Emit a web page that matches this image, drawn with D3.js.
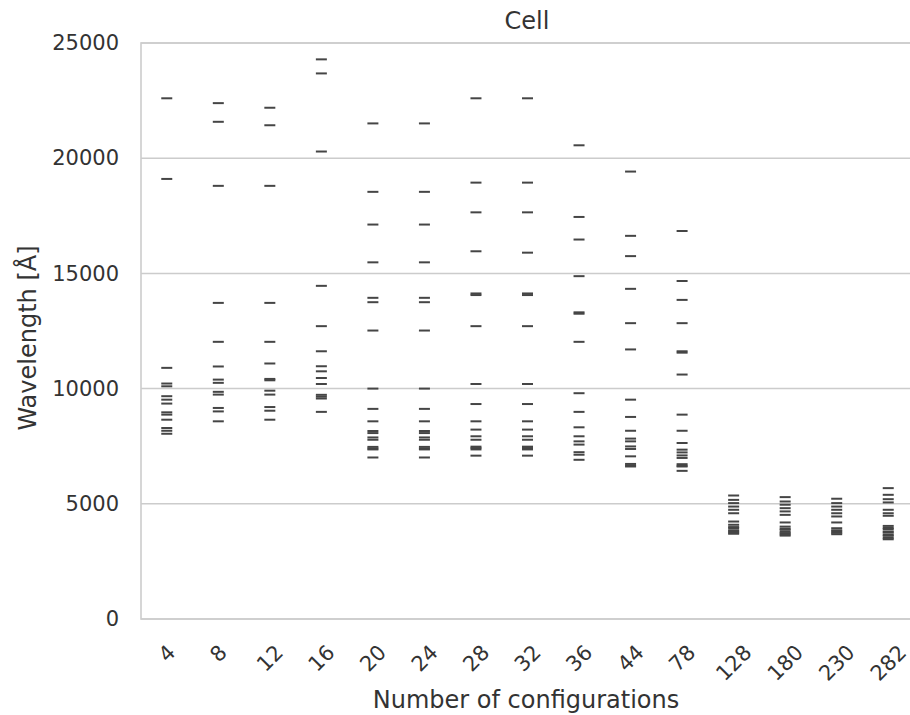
<!DOCTYPE html>
<html>
<head>
<meta charset="utf-8">
<script src="https://cdn.jsdelivr.net/npm/d3@7"></script>
<style>
  html, body { margin: 0; padding: 0; background: #fff; }
  svg { display: block; font-family: "DejaVu Sans", sans-serif; }
</style>
</head>
<body>
<svg id="chart" width="910" height="715"></svg>
<script>
// Number of configurations on the x axis
const configurations = ["4", "8", "12", "16", "20", "24", "28", "32", "36", "44", "78", "128", "180", "230", "282"];

// Wavelengths (Å) for each configuration count
const w4   = [22600, 19100, 10900, 10220, 10100, 9670, 9520, 9350, 8970, 8870, 8650, 8290, 8170, 8040];
const w8   = [22390, 21580, 18800, 13720, 12030, 10960, 10390, 10250, 9860, 9740, 9160, 9010, 8580];
const w12  = [22190, 21430, 18800, 13720, 12030, 11090, 10420, 10360, 9910, 9740, 9200, 9040, 8650];
const w16  = [24290, 23680, 20290, 14460, 12710, 11620, 10970, 10750, 10460, 10200, 9730, 9650, 9570, 8990];
const w20  = [21510, 18540, 17120, 15480, 13940, 13750, 12520, 10000, 9120, 8580, 8160, 8070, 7880, 7780, 7470, 7400, 7360, 7010];
const w24  = [21510, 18540, 17120, 15480, 13940, 13750, 12520, 10000, 9120, 8580, 8160, 8070, 7880, 7780, 7470, 7400, 7360, 7010];
const w28  = [22600, 18940, 17650, 15960, 14130, 14060, 12710, 10200, 9330, 8580, 8220, 7930, 7780, 7480, 7420, 7360, 7090];
const w32  = [22600, 18940, 17650, 15900, 14130, 14060, 12710, 10200, 9330, 8580, 8220, 7930, 7780, 7480, 7420, 7360, 7090];
const w36  = [20560, 17450, 16470, 14880, 13310, 13250, 12030, 9800, 8990, 8320, 7930, 7710, 7570, 7240, 7130, 6910];
const w44  = [19420, 16630, 15750, 14330, 12840, 11700, 9520, 8770, 8170, 7830, 7710, 7490, 7380, 7060, 6730, 6660, 6620];
const w78  = [16840, 14670, 13850, 12840, 11620, 11560, 10610, 8870, 8170, 7640, 7350, 7230, 7100, 6990, 6720, 6650, 6620, 6430];
const w128 = [5360, 5170, 5030, 4880, 4740, 4590, 4230, 4090, 3990, 3940, 3850, 3800, 3750, 3700];
const w180 = [5290, 5100, 4960, 4810, 4670, 4520, 4190, 4010, 3920, 3870, 3780, 3720, 3670, 3620];
const w230 = [5220, 5030, 4880, 4740, 4590, 4450, 4190, 3940, 3850, 3800, 3740, 3680];
const w282 = [5680, 5390, 5200, 5060, 4740, 4590, 4480, 4040, 3950, 3900, 3800, 3750, 3660, 3610, 3520, 3460];

const wavelengths = [w4, w8, w12, w16, w20, w24, w28, w32, w36, w44, w78, w128, w180, w230, w282];

const yTicks = [0, 5000, 10000, 15000, 20000, 25000];

(function draw() {
  // Plot area
  const plotLeft = 141, plotRight = 914, plotTop = 43, plotBottom = 619;
  const svg = d3.select("#chart");

  const x = d3.scaleBand().domain(configurations).range([plotLeft, plotRight]).padding(0);
  const y = d3.scaleLinear().domain([0, 25000]).range([plotBottom, plotTop]);

  const gridColor = "#cccccc";
  const textColor = "#333333";
  const tickFont = 21;
  const labelFont = 24;

  // Horizontal grid lines
  svg.append("g")
    .selectAll("line")
    .data(yTicks)
    .join("line")
    .attr("x1", plotLeft).attr("x2", plotRight)
    .attr("y1", d => y(d)).attr("y2", d => y(d))
    .attr("stroke", gridColor)
    .attr("stroke-width", 1.5);

  // Spines
  svg.append("rect")
    .attr("x", plotLeft).attr("y", plotTop)
    .attr("width", plotRight - plotLeft).attr("height", plotBottom - plotTop)
    .attr("fill", "none")
    .attr("stroke", gridColor)
    .attr("stroke-width", 1.6);

  // Y axis
  const yAxis = svg.append("g")
    .attr("transform", `translate(${plotLeft},0)`)
    .call(d3.axisLeft(y).tickValues(yTicks).tickSize(0).tickPadding(22).tickFormat(d3.format("d")));
  yAxis.select(".domain").remove();
  yAxis.selectAll("text")
    .attr("fill", textColor)
    .attr("font-size", tickFont)
    .attr("font-family", "DejaVu Sans, sans-serif");

  // X axis: labels rotated 45°, the top of each rotated label box aligned
  const xAxis = svg.append("g")
    .attr("transform", `translate(0,${plotBottom})`)
    .call(d3.axisBottom(x).tickSize(0).tickPadding(0));
  xAxis.select(".domain").remove();
  const labelTop = 24;
  xAxis.selectAll(".tick text")
    .attr("fill", textColor)
    .attr("font-size", tickFont)
    .attr("font-family", "DejaVu Sans, sans-serif")
    .attr("y", 0)
    .attr("dy", "0.35em")
    .attr("text-anchor", "middle")
    .attr("transform", function () {
      const w = this.getComputedTextLength();
      const h = tickFont * 0.75;
      const half = (w + h) / (2 * Math.SQRT2);
      return `translate(0,${labelTop + half}) rotate(-45)`;
    });

  // Wavelength marks: one short horizontal dash per value
  const marks = svg.append("g");
  configurations.forEach((c, i) => {
    const cx = x(c) + x.bandwidth() / 2;
    marks.selectAll(null)
      .data(wavelengths[i])
      .join("line")
      .attr("x1", cx - 5.5).attr("x2", cx + 5.5)
      .attr("y1", d => y(d)).attr("y2", d => y(d))
      .attr("stroke", "#454545")
      .attr("stroke-width", 2);
  });

  // Title and axis labels
  svg.append("text")
    .attr("x", 527).attr("y", 29)
    .attr("text-anchor", "middle")
    .attr("fill", textColor)
    .attr("font-size", labelFont)
    .text("Cell");

  svg.append("text")
    .attr("transform", `translate(36,338) rotate(-90)`)
    .attr("text-anchor", "middle")
    .attr("fill", textColor)
    .attr("font-size", labelFont)
    .text("Wavelength [Å]");

  svg.append("text")
    .attr("x", 526).attr("y", 708)
    .attr("text-anchor", "middle")
    .attr("fill", textColor)
    .attr("font-size", labelFont)
    .text("Number of configurations");
})();
</script>
</body>
</html>
